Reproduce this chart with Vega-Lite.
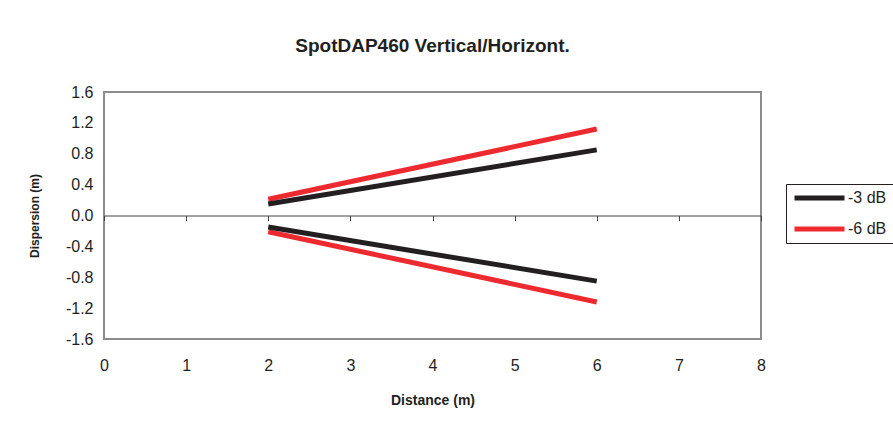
{
  "$schema": "https://vega.github.io/schema/vega-lite/v6.json",
  "autosize": "none",
  "width": 657,
  "height": 247,
  "padding": {"left": 104, "top": 92, "right": 132, "bottom": 91},
  "background": "white",
  "title": {
    "text": "SpotDAP460 Vertical/Horizont.",
    "font": "Liberation Sans",
    "fontSize": 19,
    "fontWeight": "bold",
    "color": "#231f20",
    "anchor": "middle",
    "offset": 28
  },
  "data": {
    "values": [
      {"distance": 2, "dispersion": 0.21, "series": "-6 dB", "branch": "upper"},
      {"distance": 6, "dispersion": 1.12, "series": "-6 dB", "branch": "upper"},
      {"distance": 2, "dispersion": -0.21, "series": "-6 dB", "branch": "lower"},
      {"distance": 6, "dispersion": -1.12, "series": "-6 dB", "branch": "lower"},
      {"distance": 2, "dispersion": 0.15, "series": "-3 dB", "branch": "upper"},
      {"distance": 6, "dispersion": 0.85, "series": "-3 dB", "branch": "upper"},
      {"distance": 2, "dispersion": -0.15, "series": "-3 dB", "branch": "lower"},
      {"distance": 6, "dispersion": -0.85, "series": "-3 dB", "branch": "lower"}
    ]
  },
  "mark": {"type": "line", "strokeWidth": 5, "strokeCap": "butt"},
  "encoding": {
    "x": {
      "field": "distance",
      "type": "quantitative",
      "scale": {"domain": [0, 8], "nice": false, "zero": false},
      "axis": {
        "title": "Distance (m)",
        "values": [0, 1, 2, 3, 4, 5, 6, 7, 8],
        "format": "d",
        "offset": -123.5,
        "domain": true,
        "domainColor": "#444444",
        "domainWidth": 1,
        "ticks": true,
        "tickSize": 5,
        "tickColor": "#444444",
        "tickWidth": 1,
        "grid": false,
        "labelFlush": false,
        "labelPadding": 137,
        "labelFont": "Liberation Sans",
        "labelFontSize": 16,
        "labelColor": "#231f20",
        "titleFont": "Liberation Sans",
        "titleFontSize": 14,
        "titleFontWeight": "bold",
        "titleColor": "#231f20",
        "titlePadding": 20
      }
    },
    "y": {
      "field": "dispersion",
      "type": "quantitative",
      "scale": {"domain": [-1.6, 1.6], "nice": false, "zero": false},
      "axis": {
        "title": "Dispersion (m)",
        "values": [-1.6, -1.2, -0.8, -0.4, 0, 0.4, 0.8, 1.2, 1.6],
        "format": ".1f",
        "domain": false,
        "ticks": false,
        "grid": false,
        "labelFlush": false,
        "labelPadding": 11,
        "labelFont": "Liberation Sans",
        "labelFontSize": 16,
        "labelColor": "#231f20",
        "titleFont": "Liberation Sans",
        "titleFontSize": 12,
        "titleFontWeight": "bold",
        "titleColor": "#231f20",
        "titlePadding": 24
      }
    },
    "color": {
      "field": "series",
      "type": "nominal",
      "scale": {"domain": ["-3 dB", "-6 dB"], "range": ["#231f20", "#ed2a30"]},
      "legend": {
        "title": null,
        "orient": "none",
        "legendX": 682,
        "legendY": 92,
        "symbolType": "stroke",
        "symbolSize": 2500,
        "symbolStrokeWidth": 5,
        "clipHeight": 16,
        "rowPadding": 15,
        "labelOffset": 1,
        "labelFont": "Liberation Sans",
        "labelFontSize": 16,
        "labelColor": "#231f20",
        "padding": 6,
        "strokeColor": "#231f20",
        "fillColor": "white"
      }
    },
    "detail": {"field": "branch", "type": "nominal"}
  },
  "config": {
    "view": {"stroke": "#8a8c8e", "strokeWidth": 2},
    "locale": {
      "number": {"decimal": ".", "thousands": ",", "grouping": [3], "currency": ["$", ""], "minus": "-"}
    }
  }
}
